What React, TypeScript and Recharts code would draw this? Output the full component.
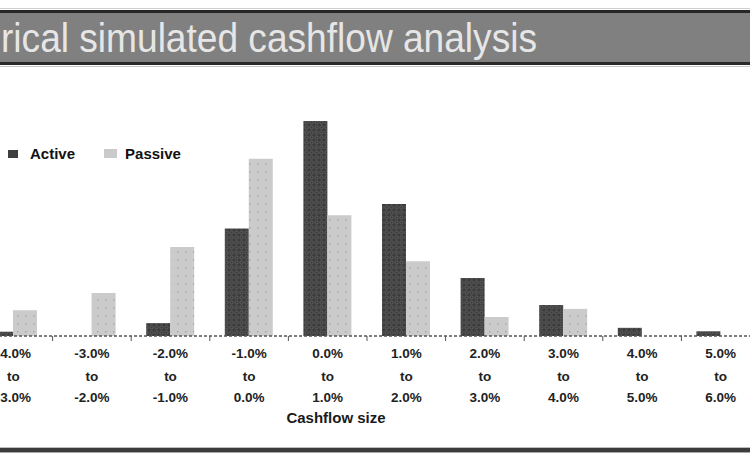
import React from 'react';
import { BarChart, Bar, XAxis, YAxis, Legend } from 'recharts';

const rangeStart = ['-4.0%', '-3.0%', '-2.0%', '-1.0%', '0.0%', '1.0%', '2.0%', '3.0%', '4.0%', '5.0%'];
const rangeEnd = ['-3.0%', '-2.0%', '-1.0%', '0.0%', '1.0%', '2.0%', '3.0%', '4.0%', '5.0%', '6.0%'];
const activeValues = [1, 0, 3, 25, 50, 30.7, 13.5, 7.2, 1.9, 1.1];
const passiveValues = [6, 10, 20.7, 41.2, 28.1, 17.4, 4.4, 6.3, 0, 0];

// the reference crops the start of the title, only this part is visible
const TITLE = 'rical simulated cashflow analysis';

const CHART_W = 790;
const CHART_H = 463;
const MARGIN = { top: 121, right: 4, left: 0, bottom: 0 };
const PLOT_W = CHART_W - MARGIN.left - MARGIN.right;
const BAND = PLOT_W / rangeStart.length;

const data = rangeStart.map((from, i) => ({
  name: `${from} to ${rangeEnd[i]}`,
  active: activeValues[i],
  passive: passiveValues[i],
}));

const FONT = '"Liberation Sans", Arial, sans-serif';

// three-line category label with a tick mark on the left band edge
const RangeTick = (props: any) => {
  const { x, y, payload } = props;
  const i = payload.index;
  return (
    <g>
      <line x1={x - BAND / 2} x2={x - BAND / 2} y1={y} y2={y + 5} stroke="#555" strokeWidth={1} />
      <text
        x={x}
        y={y}
        textAnchor="middle"
        fontFamily={FONT}
        fontWeight="bold"
        fontSize={13.5}
        fill="#222"
      >
        <tspan x={x} dy={22}>{rangeStart[i]}</tspan>
        <tspan x={x} dy={23}>to</tspan>
        <tspan x={x} dy={21}>{rangeEnd[i]}</tspan>
      </text>
    </g>
  );
};

const AxisTitle = (props: any) => {
  const vb = props.viewBox;
  return (
    <text
      x={vb.x + vb.width / 2 - 31}
      y={vb.y + 87}
      textAnchor="middle"
      fontFamily={FONT}
      fontWeight="bold"
      fontSize={15}
      fill="#1a1a1a"
    >
      Cashflow size
    </text>
  );
};

const LegendContent = () => (
  <div style={{ display: 'flex', alignItems: 'center', fontFamily: FONT, fontWeight: 'bold', fontSize: 15, color: '#111' }}>
    <span style={{ display: 'inline-block', width: 10, height: 8, background: '#3f3f3f', marginRight: 12 }} />
    <span style={{ marginRight: 29 }}>Active</span>
    <span style={{ display: 'inline-block', width: 13, height: 9, background: '#cacaca', marginRight: 8 }} />
    <span>Passive</span>
  </div>
);

export default function App() {
  return (
    <div
      style={{
        position: 'fixed',
        left: 0,
        top: 0,
        width: 750,
        height: 463,
        overflow: 'hidden',
        background: '#fff',
      }}
    >
      <div style={{ position: 'absolute', left: -26, top: 0 }}>
        <BarChart
          width={CHART_W}
          height={CHART_H}
          data={data}
          margin={MARGIN}
          barGap={0}
          barSize={24}
        >
          <defs>
            <pattern id="activePat" width="5" height="5" patternUnits="userSpaceOnUse">
              <rect width="5" height="5" fill="#3d3d3d" />
              <circle cx="2.5" cy="2.5" r="1.6" fill="none" stroke="#646464" strokeWidth="0.8" />
            </pattern>
            <pattern id="passivePat" width="8" height="8" patternUnits="userSpaceOnUse">
              <rect width="8" height="8" fill="#cbcbcb" />
              <rect x="3" y="3" width="1.5" height="1.5" fill="#a8a8a8" />
            </pattern>
          </defs>
          <XAxis
            dataKey="name"
            height={127}
            interval={0}
            tickLine={false}
            tickSize={0}
            tickMargin={0}
            axisLine={{ stroke: '#555', strokeWidth: 1.5, strokeDasharray: '3 2' }}
            tick={<RangeTick />}
            label={<AxisTitle />}
          />
          <YAxis hide domain={[0, 50]} />
          <Legend
            layout="vertical"
            verticalAlign="middle"
            align="center"
            content={<LegendContent />}
            wrapperStyle={{ top: 145, left: 34, width: 220, height: 18 }}
          />
          <Bar dataKey="active" name="Active" fill="url(#activePat)" isAnimationActive={false} />
          <Bar dataKey="passive" name="Passive" fill="url(#passivePat)" isAnimationActive={false} />
        </BarChart>
      </div>

      <svg width={750} height={70} style={{ position: 'absolute', left: 0, top: 0 }}>
        <rect x={0} y={8} width={750} height={1} fill="#cfcfcf" />
        <rect x={0} y={10} width={750} height={3} fill="#262626" />
        <rect x={0} y={13} width={750} height={49} fill="#808080" />
        <rect x={0} y={62} width={750} height={3} fill="#2a2a2a" />
        <rect x={0} y={66} width={750} height={1} fill="#c8c8c8" />
        <text
          x={1}
          y={52}
          fontFamily={FONT}
          fontSize={40}
          fill="#e6e6e6"
          textLength={536}
          lengthAdjust="spacingAndGlyphs"
        >
          {TITLE}
        </text>
      </svg>

      <svg width={750} height={8} style={{ position: 'absolute', left: 0, top: 446 }}>
        <rect x={0} y={1} width={750} height={1} fill="#bdbdbd" />
        <rect x={0} y={2} width={750} height={4} fill="#3c3c3c" />
        <rect x={0} y={6} width={750} height={1} fill="#a8a8a8" />
      </svg>
    </div>
  );
}
